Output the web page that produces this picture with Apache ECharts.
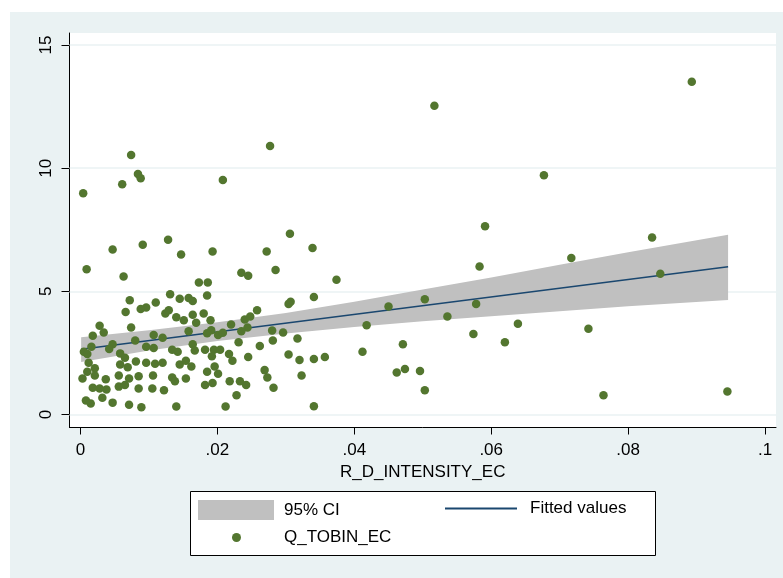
<!DOCTYPE html>
<html>
<head>
<meta charset="utf-8">
<script src="https://cdn.jsdelivr.net/npm/echarts@6/dist/echarts.min.js"></script>
<style>
html,body{margin:0;padding:0;background:#ffffff;}
#chart{width:783px;height:578px;}
</style>
</head>
<body>
<div id="chart"></div>
<script>
// R&D intensity (x) and Tobin's Q (y)
const rdIntensity = [
0.0004,0.0009,0.0074,0.0061,0.0084,0.0088,0.0208,0.0277,0.0517,0.0893,
0.0677,0.0591,0.0835,0.0717,0.0583,0.0847,0.0306,0.0339,0.0272,0.0285,
0.0374,0.0235,0.0245,0.0193,0.0147,0.0128,0.0091,0.0047,0.0063,0.0503,
0.0578,0.0450,0.0536,0.0639,0.0418,0.0742,0.0574,0.0620,0.0471,0.0412,
0.0357,0.0341,0.0320,0.0304,0.0317,0.0281,0.0296,0.0280,0.0341,0.0307,
0.0304,0.0258,0.0474,0.0462,0.0496,0.0503,0.0764,0.0945,0.0341,0.0323,
0.0282,0.0273,0.0269,0.0228,0.0212,0.0140,0.0089,0.0071,0.0047,0.0015,
0.0008,0.0242,0.0233,0.0218,0.0245,0.0231,0.0222,0.0217,
0.0173,0.0186,0.0185,0.0131,0.0145,0.0158,0.0164,0.0110,0.0096,0.0088,
0.0072,0.0066,0.0124,0.0129,0.0140,0.0151,0.0164,0.0180,0.0169,0.0074,
0.0028,0.0034,0.0018,0.0190,0.0191,0.0185,0.0201,0.0208,0.0220,0.0240,
0.0248,0.0244,0.0235,0.0158,0.0107,0.0120,0.0080,0.0047,0.0042,0.0016,
0.0005,0.0010,0.0096,0.0107,0.0164,0.0167,0.0134,0.0142,0.0182,0.0195,
0.0204,0.0192,0.0058,0.0065,0.0081,0.0096,0.0109,0.0120,0.0145,0.0154,
0.0162,0.0058,0.0069,0.0012,0.0021,0.0010,0.0003,0.0021,0.0185,0.0196,
0.0201,0.0182,0.0193,0.0134,0.0138,0.0154,0.0106,0.0085,0.0071,0.0056,
0.0056,0.0065,0.0085,0.0105,0.0122,0.0037,0.0038,0.0028,0.0018,0.0032,
0.0262
];
const tobinQ = [
8.98,5.90,10.54,9.35,9.76,9.59,9.52,10.90,12.54,13.51,
9.71,7.64,7.19,6.35,6.01,5.71,7.34,6.76,6.62,5.87,
5.47,5.75,5.63,6.62,6.50,7.09,6.89,6.70,5.60,4.68,
4.49,4.38,3.98,3.68,3.62,3.48,3.27,2.93,2.85,2.55,
2.33,2.25,2.21,2.43,3.08,3.00,3.33,3.41,4.77,4.58,
4.49,4.23,1.85,1.70,1.76,0.98,0.78,0.93,0.33,1.58,
1.08,1.50,1.80,0.78,0.32,0.32,0.29,0.39,0.48,0.44,
0.57,1.20,1.35,1.35,2.33,2.93,2.18,2.45,
5.36,5.36,4.83,4.88,4.70,4.73,4.61,4.55,4.34,4.28,
4.64,4.16,4.10,4.23,3.95,3.83,4.05,4.10,3.72,3.53,
3.60,3.33,3.20,3.83,3.42,3.30,3.23,3.32,3.65,3.86,
3.98,3.53,3.38,3.38,3.23,3.11,3.00,2.85,2.66,2.75,
2.55,2.45,2.75,2.70,2.85,2.60,2.63,2.55,2.63,2.63,
2.63,2.36,2.48,2.30,2.15,2.10,2.06,2.10,2.03,2.18,
1.95,2.03,1.92,2.10,1.88,1.73,1.46,1.58,1.73,1.95,
1.65,1.20,1.28,1.50,1.35,1.46,1.58,1.55,1.46,1.58,
1.13,1.20,1.05,1.05,0.98,1.43,1.01,1.05,1.08,0.68,
2.78
];
// Fitted values and 95% CI band
const fitX = [0.0001, 0.0946];
const fitY = [2.65, 6.00];
const ciX = [0.0001, 0.01, 0.02, 0.03, 0.04, 0.05, 0.06, 0.07, 0.08, 0.0946];
const ciLower = [2.13, 2.60, 2.98, 3.29, 3.55, 3.78, 3.99, 4.19, 4.39, 4.65];
const ciUpper = [3.13, 3.42, 3.74, 4.12, 4.58, 5.07, 5.56, 6.08, 6.59, 7.30];
// tick labels
const xTicks = [0, 0.02, 0.04, 0.06, 0.08, 0.1];
const xTickLabels = ['0', '.02', '.04', '.06', '.08', '.1'];
const yTicks = [0, 5, 10, 15];

const FONT = 'Liberation Sans, Arial, sans-serif';
const chart = echarts.init(document.getElementById('chart'), null, {renderer: 'canvas'});

const scatterData = rdIntensity.map((x, i) => [x, tobinQ[i]]);
const bandData = ciX.map((x, i) => [x, ciLower[i], ciUpper[i]]);
const fitData = fitX.map((x, i) => [x, fitY[i]]);

const option = {
  animation: false,
  backgroundColor: '#ffffff',
  graphic: [
    {type: 'rect', z: -10, silent: true, shape: {x: 10, y: 12, width: 773, height: 566}, style: {fill: '#eaf2f3'}},
    {type: 'rect', z: -9, silent: true, shape: {x: 70, y: 33, width: 706, height: 394}, style: {fill: '#ffffff'}},
    {type: 'rect', z: 5, silent: true, shape: {x: 190.5, y: 491.5, width: 465, height: 64}, style: {fill: '#ffffff', stroke: '#000000', lineWidth: 1}}
  ],
  grid: {left: 69.5, right: 7, top: 33, bottom: 150.5, containLabel: false},
  xAxis: {
    type: 'value', min: -0.0016, max: 0.1016,
    name: 'R_D_INTENSITY_EC', nameLocation: 'middle', nameGap: 30,
    nameTextStyle: {fontFamily: FONT, fontSize: 17, color: '#000'},
    axisLine: {show: true, onZero: false, lineStyle: {color: '#000', width: 1}},
    axisTick: {show: true, length: 7, customValues: xTicks, lineStyle: {color: '#000'}},
    axisLabel: {customValues: xTicks, margin: 14, fontFamily: FONT, fontSize: 17, color: '#000',
      formatter: v => { const i = xTicks.findIndex(t => Math.abs(t - v) < 1e-9); return i >= 0 ? xTickLabels[i] : ''; }},
    splitLine: {show: false}
  },
  yAxis: {
    type: 'value', min: -0.53, max: 15.49,
    axisLine: {show: true, onZero: false, lineStyle: {color: '#000', width: 1}},
    axisTick: {show: true, length: 8, customValues: yTicks, lineStyle: {color: '#000'}},
    axisLabel: {customValues: yTicks, rotate: 90, margin: 15, fontFamily: FONT, fontSize: 17, color: '#000'},
    splitLine: {show: false}
  },
  legend: [
    {data: [{name: '95% CI', icon: 'rect'}], left: 198, top: 500, itemWidth: 76, itemHeight: 20, padding: 0,
      textStyle: {fontFamily: FONT, fontSize: 17, color: '#000', padding: [0, 0, 0, 5]}, z: 6},
    {data: [{name: 'Fitted values', icon: 'rect'}], left: 445, top: 500, itemWidth: 72, itemHeight: 2, padding: 0,
      itemStyle: {color: '#1a476f'},
      textStyle: {fontFamily: FONT, fontSize: 17, color: '#000', padding: [0, 0, 0, 8]}, z: 6},
    {data: [{name: 'Q_TOBIN_EC', icon: 'circle'}], left: 232, top: 529, itemWidth: 9, itemHeight: 9, padding: 0,
      textStyle: {fontFamily: FONT, fontSize: 17, color: '#000', padding: [0, 0, 0, 38]}, z: 6}
  ],
  series: [
    {name: 'gridlines', type: 'line', data: [], silent: true, z: 1,
      markLine: {silent: true, z: 1, symbol: 'none', label: {show: false},
        lineStyle: {color: '#eaf2f3', width: 1.5, type: 'solid'},
        data: yTicks.map(v => ({yAxis: v}))}},
    {name: '95% CI', type: 'custom', data: [0], silent: true, z: 2,
      itemStyle: {color: '#c0c0c0'},
      renderItem: (params, api) => {
        const top = bandData.map(d => api.coord([d[0], d[2]]));
        const bot = bandData.map(d => api.coord([d[0], d[1]])).reverse();
        return {type: 'polygon', shape: {points: top.concat(bot)}, style: {fill: '#c0c0c0'}};
      }},
    {name: 'Fitted values', type: 'line', data: fitData, symbol: 'none',
      lineStyle: {color: '#1a476f', width: 1.5}, itemStyle: {color: '#1a476f'}, z: 3},
    {name: 'Q_TOBIN_EC', type: 'scatter', data: scatterData, symbol: 'circle', symbolSize: 8.5,
      itemStyle: {color: '#53762f', opacity: 1}, z: 4}
  ]
};
chart.setOption(option);
</script>
</body>
</html>
